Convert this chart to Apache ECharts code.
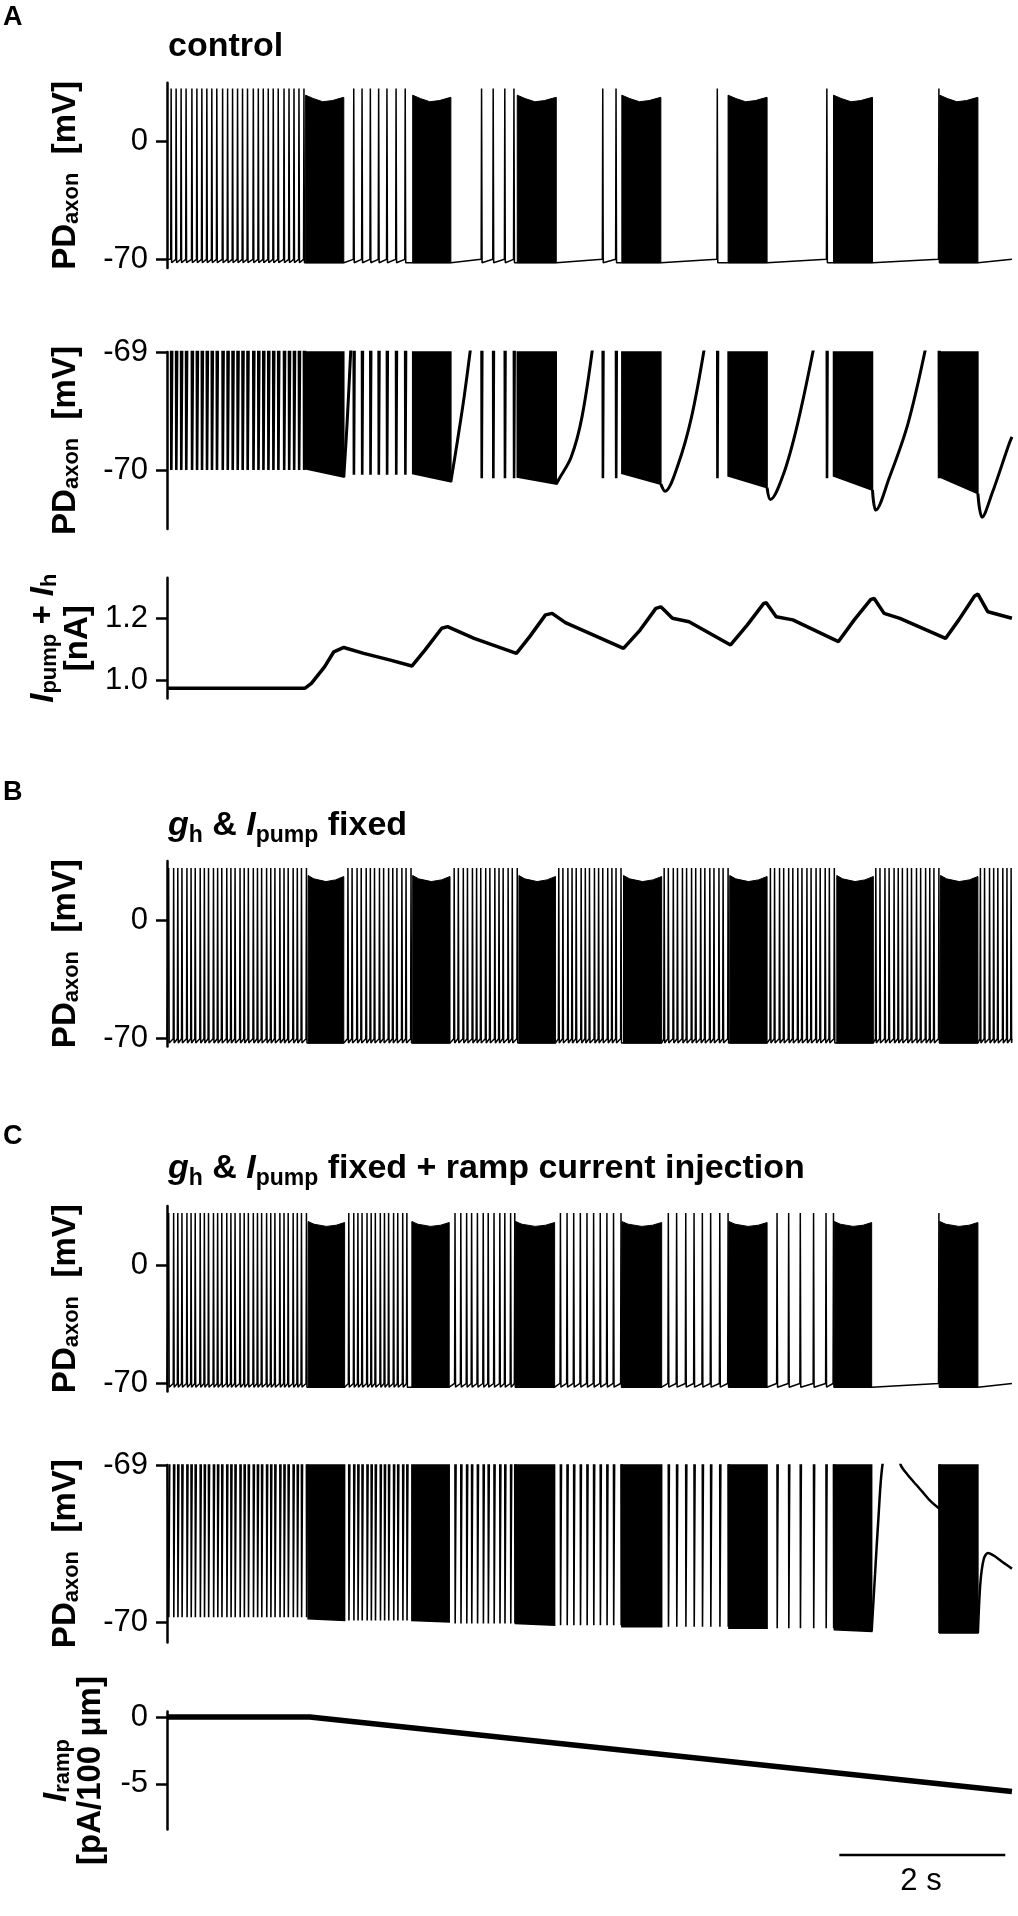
<!DOCTYPE html>
<html>
<head>
<meta charset="UTF-8">
<title>PD axon traces</title>
<script src="https://cdn.jsdelivr.net/npm/echarts/dist/echarts.min.js"></script>
<style>
    html, body { margin: 0; padding: 0; background: #fff; }
    #chart { width: 1018px; height: 1916px; }
</style>
</head>
<body>
<div id="chart"></div>
<script>
    var FONT = "'Liberation Sans', Arial, Helvetica, sans-serif";
    var T_END = 10.18;

    // ---- A: control ----
    var aTonic1 = [0.05, 0.11, 0.17, 0.23, 0.30, 0.36, 0.42, 0.48, 0.54, 0.60, 0.67, 0.73, 0.79, 0.85,
        0.91, 0.97, 1.04, 1.10, 1.16, 1.22, 1.28, 1.34, 1.41, 1.47, 1.53, 1.59, 1.65];
    var aTonic2 = [2.25, 2.35, 2.45, 2.55, 2.65, 2.76, 2.87];
    var aSingles = [3.79, 3.93, 4.07, 4.18, 5.25, 5.41, 6.63, 7.95, 9.30];
    var aBursts = [[1.67, 2.13], [2.96, 3.42], [4.22, 4.69], [5.48, 5.95], [6.76, 7.23], [8.03, 8.50], [9.31, 9.77]];
    var aEnvPhase = [0, 0.2, 0.45, 0.7, 0.9, 1];
    var aEnvTop = [27.6, 25.6, 23.7, 24.4, 25.7, 26.3];           // mV, burst upper edge
    var aTroughZoom = [-70.0, -70.04, -70.07];                     // per spike group, zoomed trace
    var aFloorZoom = [[-69.99, -70.06], [-70.03, -70.10], [-70.06, -70.12], [-70.03, -70.12],
        [-70.05, -70.15], [-70.05, -70.17], [-70.06, -70.20]];
    var aRecovery = [
        [[2.13, -70.06], [2.17, -69.6], [2.22, -68.9]],
        [[3.42, -70.10], [3.50, -69.75], [3.58, -69.38], [3.67, -68.9]],
        [[4.69, -70.12], [4.72, -70.08], [4.87, -69.89], [5.00, -69.55], [5.14, -68.9]],
        [[5.95, -70.12], [6.00, -70.18], [6.15, -69.97], [6.32, -69.55], [6.49, -68.9]],
        [[7.23, -70.15], [7.27, -70.25], [7.43, -70.03], [7.60, -69.60], [7.81, -68.9]],
        [[8.50, -70.17], [8.54, -70.34], [8.70, -70.07], [8.93, -69.60], [9.16, -68.9]],
        [[9.77, -70.20], [9.82, -70.40], [9.94, -70.20], [10.14, -69.79], [10.18, -69.72]]
    ];
    var aCurT = [0, 1.66, 1.74, 1.90, 2.01, 2.13, 2.37, 2.68, 2.95, 3.11, 3.31, 3.38, 3.70, 4.21, 4.37, 4.56,
        4.64, 4.80, 5.50, 5.70, 5.89, 5.95, 6.09, 6.29, 6.79, 6.99, 7.19, 7.22, 7.34, 7.54, 8.09, 8.28,
        8.48, 8.52, 8.64, 8.83, 9.38, 9.54, 9.73, 9.77, 9.89, 10.18];
    var aCurV = [0.973, 0.973, 0.989, 1.043, 1.091, 1.105, 1.086, 1.065, 1.045, 1.097, 1.167, 1.172, 1.134,
        1.086, 1.140, 1.210, 1.215, 1.185, 1.102, 1.161, 1.231, 1.236, 1.199, 1.188, 1.113, 1.177, 1.247,
        1.249, 1.204, 1.194, 1.124, 1.194, 1.260, 1.263, 1.215, 1.199, 1.134, 1.194, 1.271, 1.277, 1.220, 1.199];

    // ---- B: gh & Ipump fixed ----
    var bSpikes = [0.02, 0.08, 0.13, 0.18, 0.24, 0.29, 0.34, 0.40, 0.45, 0.50, 0.56, 0.61, 0.66, 0.72, 0.77,
        0.82, 0.88, 0.93, 0.98, 1.04, 1.09, 1.14, 1.20, 1.25, 1.30, 1.36, 1.41, 1.46, 1.52, 1.57, 1.62, 1.68,
        2.18, 2.23, 2.29, 2.34, 2.40, 2.45, 2.50, 2.56, 2.61, 2.67, 2.72, 2.77, 2.83, 2.88, 2.94,
        3.46, 3.51, 3.57, 3.62, 3.68, 3.73, 3.78, 3.84, 3.89, 3.95, 4.00, 4.05, 4.11, 4.16, 4.22,
        4.72, 4.77, 4.83, 4.88, 4.93, 4.99, 5.04, 5.09, 5.15, 5.20, 5.25, 5.31, 5.36, 5.41, 5.47,
        5.99, 6.04, 6.10, 6.15, 6.21, 6.26, 6.32, 6.37, 6.43, 6.48, 6.54, 6.59, 6.65, 6.70, 6.76,
        7.27, 7.32, 7.38, 7.43, 7.49, 7.54, 7.60, 7.65, 7.71, 7.76, 7.82, 7.87, 7.93, 7.98, 8.04,
        8.54, 8.59, 8.65, 8.70, 8.76, 8.81, 8.86, 8.92, 8.97, 9.03, 9.08, 9.14, 9.19, 9.24, 9.30,
        9.80, 9.85, 9.91, 9.96, 10.01, 10.07, 10.12, 10.17];
    var bBursts = [[1.70, 2.13], [2.96, 3.41], [4.24, 4.68], [5.50, 5.96], [6.78, 7.23], [8.07, 8.51], [9.32, 9.77]];
    var bEnvPhase = [0, 0.16, 0.5, 0.77, 1];
    var bEnvTop = [26.4, 24.4, 22.8, 23.8, 25.8];

    // ---- C: gh & Ipump fixed + ramp ----
    var cTonic1 = [0.02, 0.08, 0.13, 0.18, 0.24, 0.29, 0.34, 0.40, 0.45, 0.50, 0.56, 0.61, 0.66, 0.72, 0.77,
        0.82, 0.88, 0.93, 0.98, 1.04, 1.09, 1.14, 1.20, 1.25, 1.30, 1.36, 1.41, 1.46, 1.52, 1.57, 1.62, 1.68];
    var cTonic2 = [2.19, 2.25, 2.30, 2.35, 2.41, 2.46, 2.51, 2.57, 2.62, 2.67, 2.73, 2.78, 2.84, 2.89];
    var cTonic3 = [3.47, 3.54, 3.61, 3.67, 3.74, 3.81, 3.87, 3.94, 4.01, 4.07, 4.14, 4.19];
    var cTonic4 = [4.74, 4.82, 4.90, 4.98, 5.06, 5.14, 5.22, 5.30, 5.38, 5.47];
    var cTonic5 = [6.04, 6.14, 6.25, 6.35, 6.45, 6.55, 6.66, 6.76];
    var cTonic6 = [7.35, 7.49, 7.63, 7.79, 7.94, 8.03];
    var cLast = [9.30];
    var cBursts = [[1.70, 2.14], [2.95, 3.40], [4.20, 4.67], [5.48, 5.96], [6.77, 7.23], [8.04, 8.49], [9.31, 9.77]];
    var cEnvPhase = [0, 0.16, 0.5, 0.77, 1];
    var cEnvTop = [25.8, 24.2, 22.9, 23.6, 25.2];
    var cTroughZoom = [-69.97, -69.99, -70.01, -70.02, -70.03, -70.04, -70.07];
    var cFloorZoom = [[-69.98, -69.99], [-69.99, -70.0], [-70.01, -70.02], [-70.03, -70.03],
        [-70.04, -70.04], [-70.05, -70.06], [-70.07, -70.07]];
    var cRecovery = [
        [[8.49, -70.06], [8.53, -69.7], [8.57, -69.35], [8.62, -69.0], [8.70, -68.85], [8.78, -68.85],
            [8.84, -69.0], [8.92, -69.06], [9.00, -69.11], [9.10, -69.17], [9.20, -69.23], [9.31, -69.28]],
        [[9.77, -70.07], [9.80, -69.75], [9.84, -69.60], [9.89, -69.56], [9.97, -69.58], [10.07, -69.62], [10.18, -69.66]]
    ];
    var rampT = [0, 1.72, 10.18];
    var rampV = [0, 0, -5.57];

    var scaleBar = [8.10, 2];   // start, length (s)

    // ---------------------------------------------------------------
    function topTrace(spikes, bursts, rest, peak, ahp) {
        var ev = [];
        spikes.forEach(function (t) {
            ev.push([t, 0, [[t - 0.005, rest], [t, peak], [t + 0.006, ahp]]]);
        });
        bursts.forEach(function (b) {
            ev.push([b[0], 1, [[b[0], ahp], [b[1], ahp]]]);
        });
        ev.sort(function (p, q) { return (p[0] - q[0]) || (p[1] - q[1]); });
        var pts = [[0, rest]];
        ev.forEach(function (e) { pts = pts.concat(e[2]); });
        pts.push([T_END, rest]);
        return pts;
    }

    // zoomed trace: only the spike troughs dip into view
    function zoomTrace(groups, above) {
        var ev = [];
        groups.forEach(function (g) {
            g[0].forEach(function (t) {
                ev.push([t, [[t - 0.001, above], [t + 0.002, g[1]], [t + g[2], above]]]);
            });
        });
        ev.sort(function (p, q) { return p[0] - q[0]; });
        var pts = [[0, above]];
        ev.forEach(function (e) { pts = pts.concat(e[1]); });
        pts.push([T_END, above]);
        return pts;
    }

    function joinCurves(curves) {
        var pts = [];
        curves.forEach(function (c, i) {
            if (i) pts.push(null);
            pts = pts.concat(c);
        });
        return pts;
    }

    function lineSeries(gi, data, width, smooth) {
        return {
            type: 'line', xAxisIndex: gi, yAxisIndex: gi, data: data,
            showSymbol: false, symbol: 'none', smooth: smooth || false, connectNulls: false,
            lineStyle: {color: '#000', width: width}, silent: true, clip: true
        };
    }

    function envelopeBursts(gi, bursts, phase, top, base) {
        return {
            type: 'custom', xAxisIndex: gi, yAxisIndex: gi, silent: true,
            data: bursts.map(function (b) { return [b[0], b[1]]; }),
            encode: {x: [0, 1]},
            renderItem: function (params, api) {
                var b0 = api.value(0), b1 = api.value(1);
                var pts = [api.coord([b0, base])];
                for (var k = 0; k < phase.length; k++) {
                    pts.push(api.coord([b0 + phase[k] * (b1 - b0), top[k]]));
                }
                pts.push(api.coord([b1, base]));
                return {type: 'polygon', shape: {points: pts}, style: {fill: '#000', stroke: '#000', lineWidth: 1}};
            }
        };
    }

    function floorBursts(gi, bursts, floors, top) {
        return {
            type: 'custom', xAxisIndex: gi, yAxisIndex: gi, silent: true,
            data: bursts.map(function (b, i) { return [b[0], b[1], floors[i][0], floors[i][1]]; }),
            encode: {x: [0, 1]},
            renderItem: function (params, api) {
                var b0 = api.value(0), b1 = api.value(1);
                var pts = [api.coord([b0, top]), api.coord([b1, top]),
                    api.coord([b1, api.value(3)]), api.coord([b0, api.value(2)])];
                return {type: 'polygon', shape: {points: pts}, style: {fill: '#000', stroke: '#000', lineWidth: 1.5}};
            }
        };
    }

    var nameRich = {
        n: {fontSize: 33, fontWeight: 'bold', fontFamily: FONT, color: '#000'},
        i: {fontSize: 33, fontWeight: 'bold', fontStyle: 'italic', fontFamily: FONT, color: '#000'},
        s: {fontSize: 22, fontWeight: 'bold', fontFamily: FONT, color: '#000', padding: [12, 0, 0, 0]}
    };
    var titleRich = {
        n: {fontSize: 34, fontWeight: 'bold', fontFamily: FONT, color: '#000'},
        i: {fontSize: 34, fontWeight: 'bold', fontStyle: 'italic', fontFamily: FONT, color: '#000'},
        s: {fontSize: 23, fontWeight: 'bold', fontFamily: FONT, color: '#000', padding: [20, 0, 0, 0]}
    };

    function yAx(gi, min, max, ticks, name, gap, fmt) {
        return {
            type: 'value', gridIndex: gi, min: min, max: max,
            axisLine: {show: true, lineStyle: {color: '#000', width: 2.5}},
            axisTick: {show: true, length: 11, customValues: ticks, lineStyle: {color: '#000', width: 2.5}},
            axisLabel: {show: true, margin: 19, fontSize: 31, color: '#000', fontFamily: FONT,
                customValues: ticks, formatter: fmt || function (v) { return String(v); }},
            splitLine: {show: false},
            name: name, nameLocation: 'middle', nameGap: gap, nameRotate: 90,
            nameTextStyle: {rich: nameRich}
        };
    }

    var PD = '{n|PD}{s|axon}{n|  [mV]}';
    var grids = [
        {top: 82.7, height: 185.4},   // A trace
        {top: 352, height: 177},      // A zoom
        {top: 577.7, height: 120.9},  // A current
        {top: 861, height: 185.4},    // B
        {top: 1206, height: 185.4},   // C trace
        {top: 1465, height: 177.4},   // C zoom
        {top: 1711.6, height: 117.9}, // ramp
        {top: 1850, height: 10}       // scale bar
    ].map(function (g) { return {left: 167, width: 846.6, top: g.top, height: g.height}; });

    var xAxes = grids.map(function (g, i) {
        return {type: 'value', gridIndex: i, min: 0, max: 10.2, show: false};
    });

    var yAxes = [
        yAx(0, -75, 35, [-70, 0], PD, 84),
        yAx(1, -70.5, -69, [-70, -69], PD, 84),
        yAx(2, 0.94, 1.33, [1.0, 1.2], '{i|I}{s|pump}{n| + }{i|I}{s|h}\n{n|[nA]}', 62,
            function (v) { return v.toFixed(1); }),
        yAx(3, -75, 35, [-70, 0], PD, 84),
        yAx(4, -75, 35, [-70, 0], PD, 84),
        yAx(5, -70.13, -69, [-70, -69], PD, 84),
        yAx(6, -8.4, 0.4, [-5, 0], '{i|I}{s|ramp}\n{n|[pA/100 μm]}', 60),
        {type: 'value', gridIndex: 7, min: 0, max: 1, show: false}
    ];

    var series = [
        // A
        lineSeries(0, topTrace(aTonic1.concat(aTonic2, aSingles), aBursts, -69.8, 31.5, -71.8), 1.5),
        envelopeBursts(0, aBursts, aEnvPhase, aEnvTop, -71.8),
        lineSeries(1, zoomTrace([[aTonic1, aTroughZoom[0], 0.015], [aTonic2, aTroughZoom[1], 0.012],
            [aSingles, aTroughZoom[2], 0.01]], -68.7), 2.6),
        floorBursts(1, aBursts, aFloorZoom, -69),
        lineSeries(1, joinCurves(aRecovery), 3, 0.35),
        lineSeries(2, aCurT.map(function (t, i) { return [t, aCurV[i]]; }), 3.5),
        // B
        lineSeries(3, topTrace(bSpikes, bBursts, -70.5, 30.8, -73), 1.5),
        envelopeBursts(3, bBursts, bEnvPhase, bEnvTop, -73),
        // C
        lineSeries(4, topTrace(cTonic1.concat(cTonic2, cTonic3, cTonic4, cTonic5, cTonic6, cLast),
            cBursts, -70.3, 30.8, -72.5), 1.5),
        envelopeBursts(4, cBursts, cEnvPhase, cEnvTop, -72.5),
        lineSeries(5, zoomTrace([[cTonic1, cTroughZoom[0], 0.015], [cTonic2, cTroughZoom[1], 0.015],
            [cTonic3, cTroughZoom[2], 0.015], [cTonic4, cTroughZoom[3], 0.015], [cTonic5, cTroughZoom[4], 0.015],
            [cTonic6, cTroughZoom[5], 0.015], [cLast, cTroughZoom[6], 0.015]], -68.8), 1.6),
        floorBursts(5, cBursts, cFloorZoom, -69),
        lineSeries(5, joinCurves(cRecovery), 2.5, 0.3),
        lineSeries(6, rampT.map(function (t, i) { return [t, rampV[i]]; }), 5.5),
        // scale bar
        lineSeries(7, [[scaleBar[0], 0.5], [scaleBar[0] + scaleBar[1], 0.5]], 2.5)
    ];

    var letterStyle = {fontSize: 27, fontWeight: 'bold', fontFamily: FONT, color: '#000'};
    var titles = [
        {text: 'A', left: 3, top: 4, padding: 0, textStyle: letterStyle},
        {text: '{n|control}', left: 168, top: 30, padding: 0, textStyle: {rich: titleRich}},
        {text: 'B', left: 3, top: 779, padding: 0, textStyle: letterStyle},
        {text: '{i|g}{s|h}{n| & }{i|I}{s|pump}{n| fixed}', left: 168, top: 804, padding: 0,
            textStyle: {rich: titleRich}},
        {text: 'C', left: 3, top: 1123, padding: 0, textStyle: letterStyle},
        {text: '{i|g}{s|h}{n| & }{i|I}{s|pump}{n| fixed + ramp current injection}', left: 168, top: 1147,
            padding: 0, textStyle: {rich: titleRich}},
        {text: '2 s', left: 921, top: 1866, padding: 0, textAlign: 'center',
            textStyle: {fontSize: 31, fontWeight: 'normal', fontFamily: FONT, color: '#000'}}
    ];

    var chart = echarts.init(document.getElementById('chart'), null, {renderer: 'canvas'});
    chart.setOption({
        animation: false,
        backgroundColor: '#fff',
        title: titles,
        grid: grids,
        xAxis: xAxes,
        yAxis: yAxes,
        series: series
    });
</script>
</body>
</html>
